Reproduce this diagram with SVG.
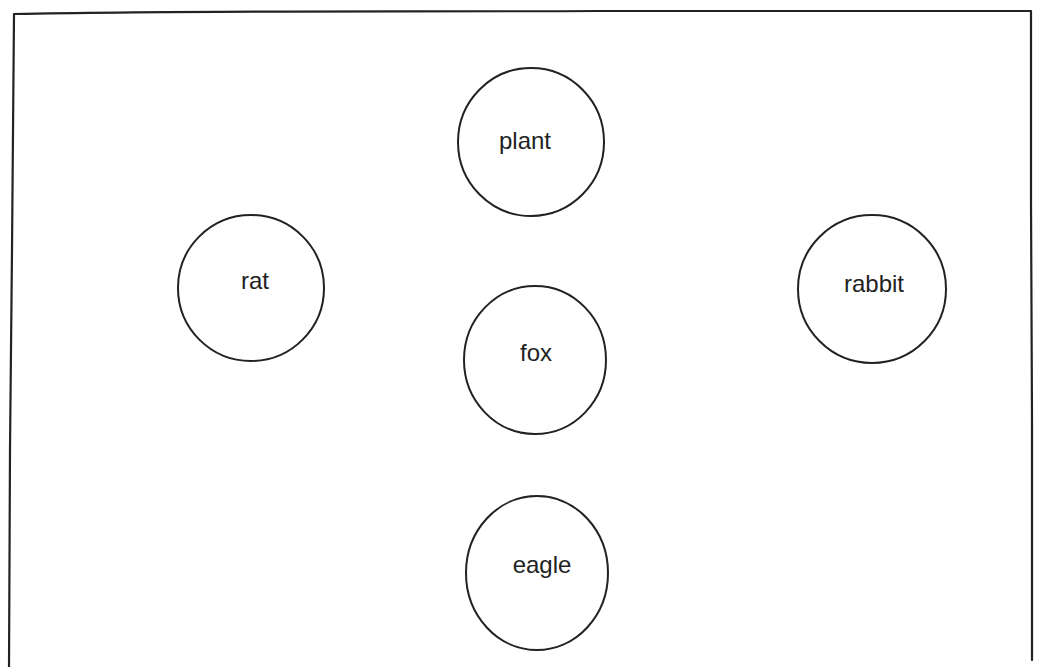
<svg xmlns="http://www.w3.org/2000/svg" width="1037" height="667" viewBox="0 0 1037 667">
<style>
.frame{fill:none;stroke:#222;stroke-width:2.2;stroke-linecap:round;stroke-linejoin:round}
.node ellipse{fill:#fff;stroke:#222;stroke-width:2}
.node text{font-family:"Liberation Sans",Arial,sans-serif;font-size:24px;fill:#222;text-anchor:middle}
</style>
<rect width="1037" height="667" fill="#fff"/>
<path class="frame" d="M14,14 C200,10 400,12 600,11 C800,10 950,12 1031,11 L1031,200 L1032,420 L1032,660 M14,14 L12,250 L10,450 L9,667"/>
<g id="connectors"></g>
<g id="plant" class="node"><ellipse cx="531" cy="142" rx="73" ry="74"/><text x="525" y="149">plant</text></g>
<g id="rat" class="node"><ellipse cx="251" cy="288" rx="73" ry="73"/><text x="255" y="289">rat</text></g>
<g id="rabbit" class="node"><ellipse cx="872" cy="289" rx="74" ry="74"/><text x="874" y="292">rabbit</text></g>
<g id="fox" class="node"><ellipse cx="535" cy="360" rx="71" ry="74"/><text x="536" y="361">fox</text></g>
<g id="eagle" class="node"><ellipse cx="537" cy="573" rx="71" ry="77"/><text x="542" y="573">eagle</text></g>
</svg>
